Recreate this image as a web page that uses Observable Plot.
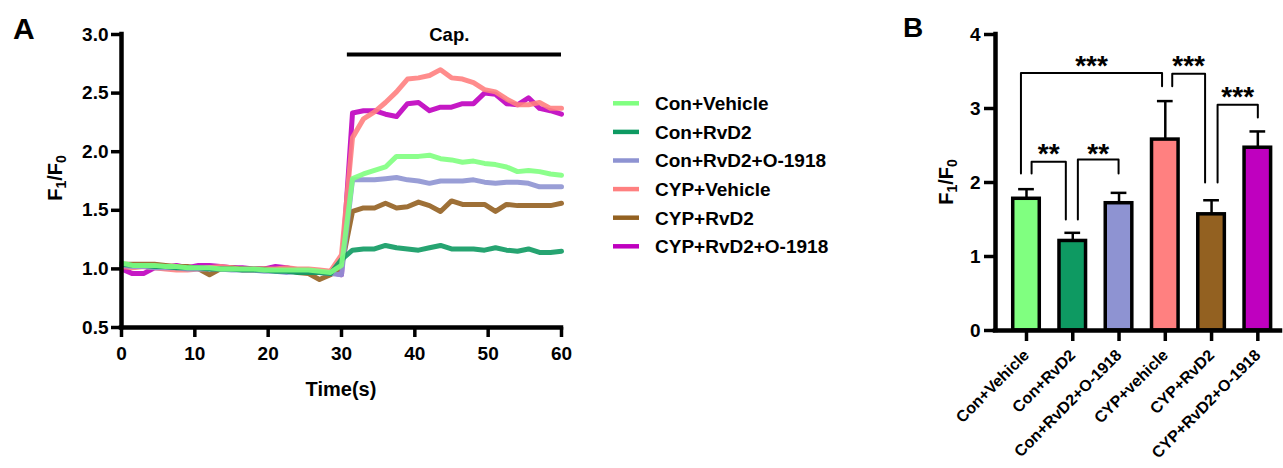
<!DOCTYPE html>
<html><head><meta charset="utf-8">
<script src="https://cdn.jsdelivr.net/npm/d3@7"></script>
<script src="https://cdn.jsdelivr.net/npm/@observablehq/plot@0.6"></script>
<style>
html,body{margin:0;padding:0;background:#fff;}
#fig{position:relative;width:1283px;height:468px;overflow:hidden;color:#000;}
#fig svg{position:absolute;top:0;max-width:none;}
#fig svg text{font-family:"Liberation Sans",Arial,sans-serif;font-weight:bold;fill:#000;}
</style>
</head><body><div id="fig"></div>
<script>
// ---------- Panel A data ----------
const times = [0,1.5,3,4.5,6,7.5,9,10.5,12,13.5,15,16.5,18,19.5,21,22.5,24,25.5,27,28.5,30,31.5,33,34.5,36,37.5,39,40.5,42,43.5,45,46.5,48,49.5,51,52.5,54,55.5,57,58.5,60];
const seriesNames = ["Con+Vehicle","Con+RvD2","Con+RvD2+O-1918","CYP+Vehicle","CYP+RvD2","CYP+RvD2+O-1918"];
const seriesColors = ["#80FF80","#0E9A62","#8E93D2","#FF8080","#936121","#BF00BF"];
const conVehicle = [1.05,1.03,1.03,1.03,1.02,1.02,1.01,1.01,1.01,1.00,1.00,1.00,1.00,0.99,0.99,0.99,0.99,0.99,0.98,0.97,1.03,1.77,1.81,1.84,1.87,1.96,1.96,1.96,1.97,1.94,1.93,1.91,1.92,1.90,1.89,1.87,1.83,1.84,1.83,1.81,1.80];
const conRvD2 = [1.04,1.03,1.03,1.02,1.02,1.01,1.01,1.01,1.00,1.00,1.00,0.99,0.99,0.99,0.98,0.98,0.97,0.97,0.97,0.96,1.08,1.16,1.17,1.17,1.20,1.18,1.17,1.16,1.18,1.20,1.17,1.17,1.17,1.16,1.18,1.16,1.15,1.17,1.14,1.14,1.15];
const conRvD2O1918 = [1.03,1.02,1.02,1.01,1.01,1.01,1.00,1.00,1.00,1.00,0.99,0.99,0.99,0.98,0.98,0.97,0.98,0.98,0.97,0.96,0.95,1.76,1.76,1.76,1.77,1.78,1.76,1.75,1.73,1.75,1.75,1.75,1.76,1.74,1.73,1.74,1.74,1.73,1.70,1.70,1.70];
const cypVehicle = [1.02,1.01,1.02,1.01,1.00,0.99,0.99,1.00,1.01,1.02,1.01,0.99,0.99,1.00,1.00,1.01,1.00,1.00,0.99,0.98,1.12,2.12,2.28,2.34,2.42,2.51,2.62,2.63,2.65,2.70,2.63,2.62,2.59,2.53,2.51,2.45,2.40,2.40,2.42,2.37,2.37];
const cypRvD2 = [1.04,1.04,1.04,1.04,1.03,1.02,1.02,1.00,0.95,1.00,1.01,1.00,1.00,1.00,0.99,0.99,0.97,0.96,0.91,0.95,1.02,1.49,1.52,1.52,1.56,1.52,1.53,1.57,1.54,1.49,1.58,1.55,1.55,1.55,1.49,1.55,1.54,1.54,1.54,1.54,1.56];
const cypRvD2O1918 = [1.00,0.96,0.96,1.01,1.01,1.03,1.01,1.03,1.03,1.02,1.01,1.01,1.00,1.00,1.02,1.01,0.99,0.99,0.97,0.97,0.95,2.33,2.35,2.35,2.32,2.30,2.41,2.42,2.35,2.38,2.38,2.41,2.41,2.50,2.49,2.41,2.40,2.46,2.37,2.35,2.32];
const xTicksA = [0,10,20,30,40,50,60];
const yTicksA = [0.5,1.0,1.5,2.0,2.5,3.0];
const capLabel = "Cap.";
const capStart = 30.8, capEnd = 60, capLevel = 2.83, capLabelX = 44.7, capLabelY = 2.945;

// ---------- Panel B data ----------
const groupLabels = ["Con+Vehicle","Con+RvD2","Con+RvD2+O-1918","CYP+vehicle","CYP+RvD2","CYP+RvD2+O-1918"];
const barMeans = [1.78,1.21,1.72,2.58,1.57,2.47];
const barSEM = [0.13,0.11,0.14,0.52,0.19,0.22];
const barColors = ["#80FF80","#0E9A62","#8E93D2","#FF8080","#936121","#BF00BF"];
const yTicksB = [0,1,2,3,4];
const sigLabels = ["***","***","***","**","**"];
const sigFrom = [0,3,4,0,1];
const sigTo = [3,4,5,1,2];
const sigFromY = [2.12,3.30,2.00,2.12,1.50];
const sigToY = [3.30,2.00,2.88,1.50,2.12];
const sigTopY = [3.48,3.47,3.05,2.28,2.31];
const sigTextY = [3.45,3.45,3.03,2.26,2.27];
// leg offsets (layout, in bar-slot units)
const sigFromDx = [-0.12,0.15,0.13,0.11,0.11];
const sigToDx = [-0.07,-0.14,0.0,-0.15,-0.01];

const FONT = '"Liberation Sans", Arial, sans-serif';
const fig = d3.select("#fig");

// ---------- Panel A ----------
const seriesValues = [conVehicle, conRvD2, conRvD2O1918, cypVehicle, cypRvD2, cypRvD2O1918];
const lineMarks = seriesNames.map((name, k) => k).reverse().map(k =>
  Plot.line(times.map((t, i) => ({t, v: seriesValues[k][i]})), {
    x: "t", y: "v", stroke: seriesColors[k], strokeWidth: 5, strokeOpacity: 0.9,
    strokeLinejoin: "round", strokeLinecap: "round"
  })
);
const plotA = Plot.plot({
  width: 880, height: 420,
  marginLeft: 121, marginRight: 319, marginTop: 34, marginBottom: 93,
  x: {domain: [0, 60]},
  y: {domain: [0.5, 3.0]},
  style: {fontFamily: FONT, fontWeight: "bold", fontSize: "19px", background: "transparent", overflow: "visible", color: "#000"},
  marks: [
    ...lineMarks,
    Plot.axisX({ticks: xTicksA, tickSize: 10, tickPadding: 9, strokeWidth: 3.5, fontSize: 19, fontWeight: "bold", label: null}),
    Plot.axisY({ticks: yTicksA, tickFormat: d3.format(".1f"), tickSize: 10, tickPadding: 3, strokeWidth: 3.5, fontSize: 19, fontWeight: "bold", label: null}),
    Plot.ruleY([capLevel], {x1: capStart, x2: capEnd, stroke: "#000", strokeWidth: 4}),
    Plot.text([capLabel], {x: capLabelX, y: capLabelY, text: d => d, lineAnchor: "bottom", fontSize: 18.5, fontWeight: "bold"}),
    Plot.ruleX([0], {stroke: "#000", strokeWidth: 4.5, strokeLinecap: "square"}),
    Plot.ruleY([0.5], {stroke: "#000", strokeWidth: 4.5, strokeLinecap: "square"})
  ]
});
plotA.style.left = "0px";
fig.node().appendChild(plotA);
const sA = d3.select(plotA);
sA.append("text").attr("x", 13).attr("y", 39).attr("text-anchor", "start").attr("font-size", 30).text("A");
sA.append("text").attr("x", 341).attr("y", 396).attr("text-anchor", "middle").attr("font-size", 20).text("Time(s)");
const yLabA = sA.append("text").attr("transform", "translate(62,178) rotate(-90)").attr("text-anchor", "middle").attr("font-size", 20);
yLabA.append("tspan").text("F");
yLabA.append("tspan").attr("font-size", 14).attr("dy", 4).text("1");
yLabA.append("tspan").attr("dy", -4).text("/F");
yLabA.append("tspan").attr("font-size", 14).attr("dy", 4).text("0");
// legend
const leg = sA.append("g");
seriesNames.forEach((name, k) => {
  const cy = 103.3 + 28.6 * k;
  leg.append("line").attr("x1", 613).attr("x2", 639).attr("y1", cy).attr("y2", cy)
    .attr("stroke", seriesColors[k]).attr("stroke-width", 4.5);
  leg.append("text").attr("x", 655).attr("y", cy).attr("dy", "0.36em").attr("text-anchor", "start").attr("font-size", 19).text(name);
});

// ---------- Panel B ----------
const xDomainB = [-0.67, 5.49];
const barHalf = 0.287, capHalf = 0.17;
const bars = groupLabels.map((g, i) => ({i, g, mean: barMeans[i], top: barMeans[i] + barSEM[i], color: barColors[i]}));
const bracketPts = [];
sigLabels.forEach((lab, k) => {
  const xa = sigFrom[k] + sigFromDx[k], xb = sigTo[k] + sigToDx[k];
  bracketPts.push({k, x: xa, y: sigFromY[k]}, {k, x: xa, y: sigTopY[k]}, {k, x: xb, y: sigTopY[k]}, {k, x: xb, y: sigToY[k]});
});
const sigText = sigLabels.map((lab, k) => ({lab, x: (sigFrom[k] + sigFromDx[k] + sigTo[k] + sigToDx[k]) / 2, y: sigTextY[k]}));
const plotB = Plot.plot({
  width: 403, height: 468,
  marginLeft: 115, marginRight: 3, marginTop: 34, marginBottom: 138,
  x: {domain: xDomainB},
  y: {domain: [0, 4]},
  color: {type: "identity"},
  style: {fontFamily: FONT, fontWeight: "bold", fontSize: "19px", background: "transparent", overflow: "visible", color: "#000"},
  marks: [
    Plot.ruleX(bars, {x: "i", y1: "mean", y2: "top", stroke: "#000", strokeWidth: 2.5}),
    Plot.ruleY(bars, {y: "top", x1: d => d.i - capHalf, x2: d => d.i + capHalf, stroke: "#000", strokeWidth: 2.5}),
    Plot.rect(bars, {x1: d => d.i - barHalf, x2: d => d.i + barHalf, y1: 0, y2: "mean", fill: "color", stroke: "#000", strokeWidth: 3.5}),
    Plot.line(bracketPts, {x: "x", y: "y", z: "k", stroke: "#000", strokeWidth: 2}),
    Plot.text(sigText, {x: "x", y: "y", text: "lab", lineAnchor: "bottom", fontSize: 28, fontWeight: "bold"}),
    Plot.axisX({ticks: [0,1,2,3,4,5], tickFormat: i => groupLabels[i], tickRotate: -45, tickSize: 11, tickPadding: 11, strokeWidth: 3.5, fontSize: 16, fontWeight: "bold", label: null}),
    Plot.axisY({ticks: yTicksB, tickFormat: d3.format("d"), tickSize: 11, tickPadding: 4, strokeWidth: 3.5, fontSize: 19, fontWeight: "bold", label: null}),
    Plot.ruleX([xDomainB[0]], {stroke: "#000", strokeWidth: 4.5, strokeLinecap: "square"}),
    Plot.ruleY([0], {stroke: "#000", strokeWidth: 4.5, strokeLinecap: "square"})
  ]
});
plotB.style.left = "880px";
fig.node().appendChild(plotB);
const sB = d3.select(plotB);
sB.append("text").attr("x", 23).attr("y", 37).attr("text-anchor", "start").attr("font-size", 28).text("B");
const yLabB = sB.append("text").attr("transform", "translate(73,182) rotate(-90)").attr("text-anchor", "middle").attr("font-size", 20);
yLabB.append("tspan").text("F");
yLabB.append("tspan").attr("font-size", 14).attr("dy", 4).text("1");
yLabB.append("tspan").attr("dy", -4).text("/F");
yLabB.append("tspan").attr("font-size", 14).attr("dy", 4).text("0");
</script>
</body></html>
